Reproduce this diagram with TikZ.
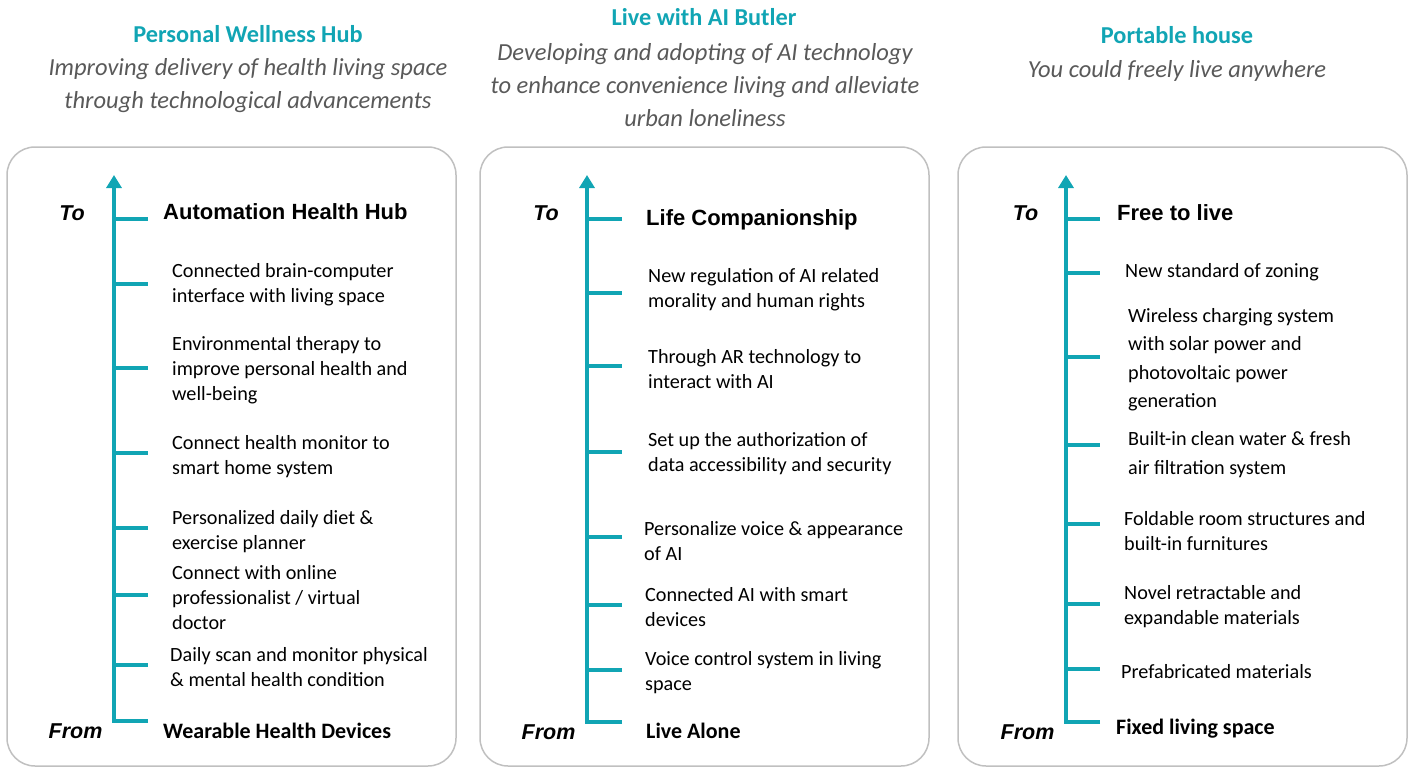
\documentclass[tikz,border=0pt]{standalone}
\usepackage{fontspec}
\setmainfont{Carlito}
\newfontfamily\arialf{Liberation Sans}
\usetikzlibrary{arrows.meta}
\definecolor{teal1}{RGB}{17,165,180}
\definecolor{subgray}{RGB}{89,89,89}
\definecolor{boxgray}{RGB}{192,192,192}
\tikzset{
  panel/.style={draw=boxgray,line width=1.5pt,rounded corners=28pt},
  axisline/.style={draw=teal1,line width=4.2pt,line join=miter,-{Triangle[width=15pt,length=13pt]}},
  tickline/.style={draw=teal1,line width=3.5pt},
  ttl/.style={font=\fontsize{24.3}{28}\selectfont\bfseries,text=teal1,inner sep=0pt},
  sub/.style={font=\fontsize{24.5}{33}\selectfont\itshape,text=subgray,align=center,inner sep=0pt,yshift=-1.5pt},
  item/.style={font=\fontsize{20.2}{25}\selectfont,anchor=west,align=left,inner sep=0pt,yshift=-2pt},
  tohead/.style={font=\arialf\bfseries\fontsize{22}{26}\selectfont,anchor=west,inner sep=0pt,yshift=-1pt},
  fromhead/.style={font=\fontsize{22}{26}\selectfont\bfseries,anchor=west,inner sep=0pt,yshift=-1pt},
  tofrom/.style={font=\arialf\bfseries\itshape\fontsize{21.5}{26}\selectfont,inner sep=0pt},
}
\begin{document}
\begin{tikzpicture}[x=1pt,y=-1pt]
\useasboundingbox (0,0) rectangle (1409,769);
% ---------- titles ----------
\node[ttl] (t1) at (248,34) {Personal Wellness Hub};
\node[sub] (s1) at (248,84) {Improving delivery of health living space\\through technological advancements};
\node[ttl] (t2) at (704,17) {Live with AI Butler};
\node[sub] (s2) at (705,84) {Developing and adopting of AI technology\\to enhance convenience living and alleviate\\urban loneliness};
\node[ttl] (t3) at (1177,35) {Portable house};
\node[sub] (s3) at (1177,69) {You could freely live anywhere};
% ---------- panels ----------
\draw[panel] (7,147) rectangle (456,766) node[coordinate] (p1) {};
\draw[panel] (480,147) rectangle (929,766) node[coordinate] (p2) {};
\draw[panel] (958,147) rectangle (1407,766) node[coordinate] (p3) {};
% ---------- panel 1 ----------
\coordinate (a1t) at (114,175);
\coordinate (a1b) at (114,721);
\coordinate (a1e) at (148,721);
\draw[axisline] (a1e) -- (a1b) -- (a1t);
\foreach \y [count=\i] in {219,284,368,453,528,595,665} {
  \coordinate (a1k\i) at (114,\y); \coordinate (a1m\i) at (148,\y);
  \draw[tickline] (a1k\i) -- (a1m\i);
}
\node[tofrom] (to1) at (72,213) {To};
\node[tofrom] (fr1) at (75.5,731) {From};
\node[tohead] (h1) at (163,211) {Automation Health Hub};
\node[item] (i11) at (172,282.5) {Connected brain-computer\\interface with living space};
\node[item] (i12) at (172,368) {Environmental therapy to\\improve personal health and\\well-being};
\node[item] (i13) at (172,455) {Connect health monitor to\\smart home system};
\node[item] (i14) at (172,530) {Personalized daily diet \&\\exercise planner};
\node[item] (i15) at (172,596) {Connect with online\\professionalist / virtual\\doctor};
\node[item] (i16) at (170,665) {Daily scan and monitor physical\\\& mental health condition};
\node[fromhead] (f1) at (163,730) {Wearable Health Devices};
% ---------- panel 2 ----------
\coordinate (a2t) at (587,175);
\coordinate (a2b) at (587,722);
\coordinate (a2e) at (622,722);
\draw[axisline] (a2e) -- (a2b) -- (a2t);
\foreach \y [count=\i] in {219,293,366,452,537,605,670} {
  \coordinate (a2k\i) at (587,\y); \coordinate (a2m\i) at (622,\y);
  \draw[tickline] (a2k\i) -- (a2m\i);
}
\node[tofrom] (to2) at (546,213) {To};
\node[tofrom] (fr2) at (548.5,732) {From};
\node[tohead] (h2) at (646,219) {Life Companionship};
\node[item] (i21) at (648,287.5) {New regulation of AI related\\morality and human rights};
\node[item] (i22) at (648,367) {Through AR technology to\\interact with AI};
\node[item] (i23) at (648,451.5) {Set up the authorization of\\data accessibility and security};
\node[item] (i24) at (644,539) {Personalize voice \& appearance\\of AI};
\node[item] (i25) at (645,605.5) {Connected AI with smart\\devices};
\node[item] (i26) at (645,671) {Voice control system in living\\space};
\node[fromhead] (f2) at (646,730) {Live Alone};
% ---------- panel 3 ----------
\coordinate (a3t) at (1066,175);
\coordinate (a3b) at (1066,722);
\coordinate (a3e) at (1100,722);
\draw[axisline] (a3e) -- (a3b) -- (a3t);
\foreach \y [count=\i] in {219,273,357,445,524,604,669} {
  \coordinate (a3k\i) at (1066,\y); \coordinate (a3m\i) at (1100,\y);
  \draw[tickline] (a3k\i) -- (a3m\i);
}
\node[tofrom] (to3) at (1025.5,213) {To};
\node[tofrom] (fr3) at (1027.5,732) {From};
\node[tohead] (h3) at (1117,212) {Free to live};
\node[item] (i31) at (1125,270) {New standard of zoning};
\node[item,font=\fontsize{20.2}{28.5}\selectfont] (i32) at (1128,357.5) {Wireless charging system\\with solar power and\\photovoltaic power\\generation};
\node[item,font=\fontsize{20.2}{29}\selectfont] (i33) at (1128,452.5) {Built-in clean water \& fresh\\air filtration system};
\node[item] (i34) at (1124,529) {Foldable room structures and\\built-in furnitures};
\node[item] (i35) at (1124,605) {Novel retractable and\\expandable materials};
\node[item] (i36) at (1121,670) {Prefabricated materials};
\node[fromhead] (f3) at (1116,728) {Fixed living space};
\end{tikzpicture}
\end{document}
